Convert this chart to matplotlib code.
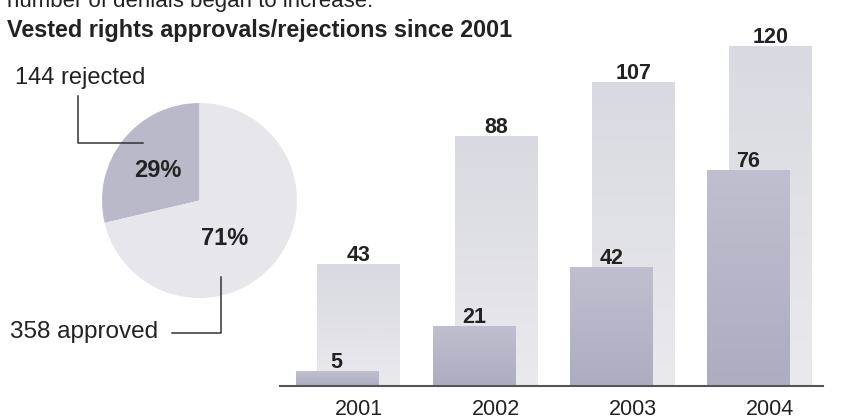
import numpy as np
import matplotlib
matplotlib.use('Agg')
import matplotlib.pyplot as plt
import matplotlib.transforms as mtransforms
from matplotlib.lines import Line2D
from matplotlib import font_manager

# data
years = ['2001', '2002', '2003', '2004']
applications = [43, 88, 107, 120]
rejections = [5, 21, 42, 76]
pie_labels = ['144 rejected', '358 approved']
pie_values = [144, 358]
pie_pcts = ['29%', '71%']

names = {f.name for f in font_manager.fontManager.ttflist}
family = 'Liberation Sans Narrow' if 'Liberation Sans Narrow' in names else 'Liberation Sans'
plt.rcParams['font.family'] = family

W, H = 849, 419
fig = plt.figure(figsize=(W / 100, H / 100), dpi=100)
PX = mtransforms.Affine2D().scale(1, -1).translate(0, H)  # top-left pixel coords


def fbox(x0, y0, x1, y1):
    return [x0 / W, (H - y1) / H, (x1 - x0) / W, (y1 - y0) / H]


TXT = '#222222'
LIGHT_TOP, LIGHT_BOT = '#d9d9e1', '#e9e9ee'
DARK_TOP, DARK_BOT = '#bfbfcf', '#adadc1'

# cut-off text line from the page above (clipped in the original too), then the title
fig.text(7, 7, 'number of denials began to increase.', transform=PX,
         fontsize=16, color=TXT, va='baseline')
fig.text(7, 37, 'Vested rights approvals/rejections since 2001', transform=PX,
         fontsize=16.8, fontweight='bold', color=TXT, va='baseline')

# bars
ax = fig.add_axes(fbox(280, 20, 823, 386))
x = np.arange(len(years))
bw = 0.6
off = 0.16


def grad_bar(xc, h, top, bot, z):
    c0 = np.array(matplotlib.colors.to_rgb(top))
    c1 = np.array(matplotlib.colors.to_rgb(bot))
    t = np.linspace(0, 1, 64)[:, None]
    img = (c0 * (1 - t) + c1 * t)[:, None, :]
    ax.imshow(img, extent=[xc - bw / 2, xc + bw / 2, 0, h], aspect='auto',
              zorder=z, interpolation='bicubic')


for xi, a, r in zip(x, applications, rejections):
    grad_bar(xi, a, LIGHT_TOP, LIGHT_BOT, 1)
    grad_bar(xi - off, r, DARK_TOP, DARK_BOT, 2)
    ax.text(xi, a + 1.2, str(a), ha='center', va='baseline', fontsize=15.5,
            fontweight='bold', color=TXT, zorder=3)
    ax.text(xi - off, r + 1.2, str(r), ha='center', va='baseline', fontsize=15.5,
            fontweight='bold', color=TXT, zorder=3)

ax.set_xlim(-0.573, 3.383)
ax.set_ylim(0, 129.2)
ax.set_xticks(x)
ax.set_xticklabels(years, fontsize=15.5, color=TXT)
ax.tick_params(axis='x', length=0, pad=9)
ax.set_yticks([])
for s in ['top', 'right', 'left']:
    ax.spines[s].set_visible(False)
ax.spines['bottom'].set_color('#555555')
ax.spines['bottom'].set_linewidth(1.5)
ax.spines['bottom'].set_zorder(4)
ax.patch.set_alpha(0)

# pie
axp = fig.add_axes(fbox(102, 103, 297, 298))
axp.pie(pie_values, colors=['#b9b9ca', '#e6e6ec'], startangle=90,
        counterclock=True, radius=1.0)
axp.set_xlim(-1, 1)
axp.set_ylim(-1, 1)
axp.set_aspect('equal')
axp.text(-0.43, 0.31, pie_pcts[0], ha='center', va='center', fontsize=17,
         fontweight='bold', color=TXT)
axp.text(0.26, -0.39, pie_pcts[1], ha='center', va='center', fontsize=17,
         fontweight='bold', color=TXT)

# callouts
fig.text(15, 78, pie_labels[0], transform=PX, fontsize=17, color=TXT, va='center')
fig.text(10, 332, pie_labels[1], transform=PX, fontsize=17.5, color=TXT, va='center')
fig.add_artist(Line2D([78, 78, 143], [96, 143, 143], transform=PX,
                      color='#333333', lw=1.1))
fig.add_artist(Line2D([172, 221, 221], [333, 333, 277], transform=PX,
                      color='#333333', lw=1.1))

fig.savefig('out.png', dpi=100)
